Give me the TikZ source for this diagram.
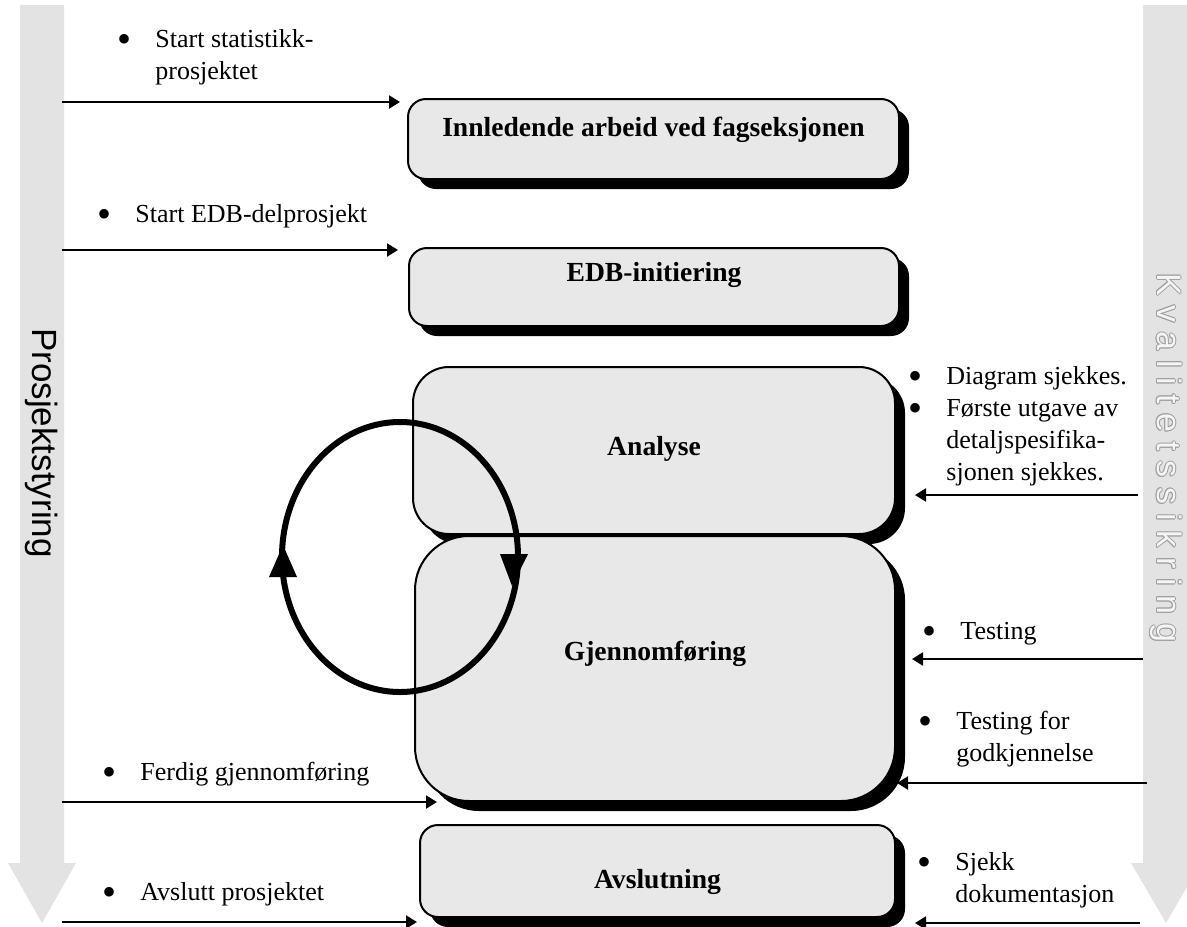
\documentclass[tikz,border=0pt]{standalone}
\usepackage{fontspec}
\setmainfont{Liberation Serif}
\newfontfamily\bandfont{Liberation Sans}
\newfontfamily\hollowfont{Liberation Sans}[LetterSpace=28]
\usetikzlibrary{arrows.meta,shadows}

\newcommand{\bul}{\smash{\raisebox{-2.8pt}{\fontsize{20}{16}\selectfont\textbullet}}}
\newcommand{\bulletlist}[1]{\begin{tabular}[t]{@{}p{19pt}@{}l@{}}#1\end{tabular}}
\newcommand{\hcopy}[3]{\makebox[0pt][l]{\hspace*{#1}\raisebox{#2}{\textcolor{gray!75}{#3}}}}
\newcommand{\hollowtext}[1]{%
  \hcopy{0.5pt}{0pt}{#1}\hcopy{-0.5pt}{0pt}{#1}\hcopy{0pt}{0.5pt}{#1}\hcopy{0pt}{-0.5pt}{#1}%
  \hcopy{0.35pt}{0.35pt}{#1}\hcopy{-0.35pt}{0.35pt}{#1}\hcopy{0.35pt}{-0.35pt}{#1}\hcopy{-0.35pt}{-0.35pt}{#1}%
  \textcolor{gray!8}{#1}}

\tikzset{
  phase/.style={draw=black, line width=1pt, fill=gray!18, rounded corners=9pt,
    inner sep=0pt, anchor=north west, font=\fontsize{13.8}{16}\selectfont\bfseries,
    drop shadow={shadow xshift=5pt, shadow yshift=-5pt, fill=black, opacity=1}},
  feed/.style={line width=1.1pt, -{Triangle[length=5.5pt,width=6.5pt]}},
  note/.style={anchor=base west, inner sep=0pt, font=\fontsize{13}{16}\selectfont},
  band/.style={fill=gray!22, draw=none},
  cycle ring/.style={line width=3pt},
}

\begin{document}
\begin{tikzpicture}[x=0.5pt, y=-0.5pt]
  \useasboundingbox (0,0) rectangle (1187,926);
  \clip (0,0) rectangle (1187,926);

  \coordinate (LC) at (400,557);
  \coordinate (L1) at (62,102);
  \coordinate (L2) at (62,250);
  \coordinate (L3) at (62,802);
  \coordinate (L4) at (62,922);
  \coordinate (R1) at (1138,495);
  \coordinate (R2) at (1143,659);
  \coordinate (R3) at (1147,783);
  \coordinate (R4) at (1140,923);

  % side bands
  \fill[band] (20,5) -- (64,5) -- (64,863) -- (76,863) -- (42,923) -- (8,863) -- (20,863) -- cycle;
  \fill[band] (1143,5) -- (1189,5) -- (1189,863) -- (1201,863) -- (1166,923) -- (1131,863) -- (1143,863) -- cycle;
  \node[rotate=-90, font=\bandfont\fontsize{17.5}{20}\selectfont] (ps) at (42,443) {Prosjektstyring};
  \node[rotate=-90, font=\hollowfont\fontsize{17}{20}\selectfont] (ks) at (1166,458) {\hollowtext{Kvalitetssikring}};

  % phases
  \node[phase, minimum width=245.5pt, text height=18.5pt, text depth=21.5pt] (inn) at (407,98) {Innledende arbeid ved fagseksjonen};
  \node[phase, minimum width=245pt, text height=16.5pt, text depth=22.5pt] (edb) at (408,247) {EDB-initiering};
  \node[phase, rounded corners=18pt, minimum width=241pt, text height=44pt, text depth=39.5pt] (ana) at (412,366) {Analyse};
  \node[phase, rounded corners=27pt, minimum width=240pt, text height=62pt, text depth=70.5pt] (gjen) at (414,535) {Gjennomføring};
  \node[phase, minimum width=237.5pt, text height=31.5pt, text depth=14.5pt] (avsl) at (419,824) {Avslutning};

  \draw[cycle ring] (LC) ellipse [x radius=59pt, y radius=67.5pt];
  \fill (500,554) -- (528,554) -- (512,586) -- cycle;
  \fill (269,577) -- (297,577) -- (283,545) -- cycle;

  % notes
  \node[note] (n1) at (117,47) {\bulletlist{\bul & Start statistikk-\\ & prosjektet}};
  \node[note] (n2) at (97,222) {\bulletlist{\bul & Start EDB-delprosjekt}};
  \node[note] (n3) at (102,780) {\bulletlist{\bul & Ferdig gjennomføring}};
  \node[note] (n4) at (102,900) {\bulletlist{\bul & Avslutt prosjektet}};
  \node[note] (q1) at (908,384) {\bulletlist{\bul & Diagram sjekkes.\\ \bul & Første utgave av\\ & detaljspesifika-\\ & sjonen sjekkes.}};
  \node[note] (q2) at (922,639) {\bulletlist{\bul & Testing}};
  \node[note] (q3) at (918,729) {\bulletlist{\bul & Testing for\\ & godkjennelse}};
  \node[note] (q4) at (917,870) {\bulletlist{\bul & Sjekk\\ & dokumentasjon}};

  \draw[feed, shorten >=3.5pt] (L1) -- (L1 -| inn.west);
  \draw[feed, shorten >=5pt] (L2) -- (L2 -| edb.west);
  \draw[feed, shorten >=-11.5pt] (L3) -- (L3 -| gjen.west);
  \draw[feed, shorten >=1pt] (L4) -- (L4 -| avsl.west);
  \draw[feed, shorten >=9.5pt] (R1) -- (R1 -| ana.east);
  \draw[feed, shorten >=8pt] (R2) -- (R2 -| gjen.east);
  \draw[feed, shorten >=0.5pt] (R3) -- (R3 -| gjen.east);
  \draw[feed, shorten >=9.5pt] (R4) -- (R4 -| avsl.east);
\end{tikzpicture}
\end{document}
